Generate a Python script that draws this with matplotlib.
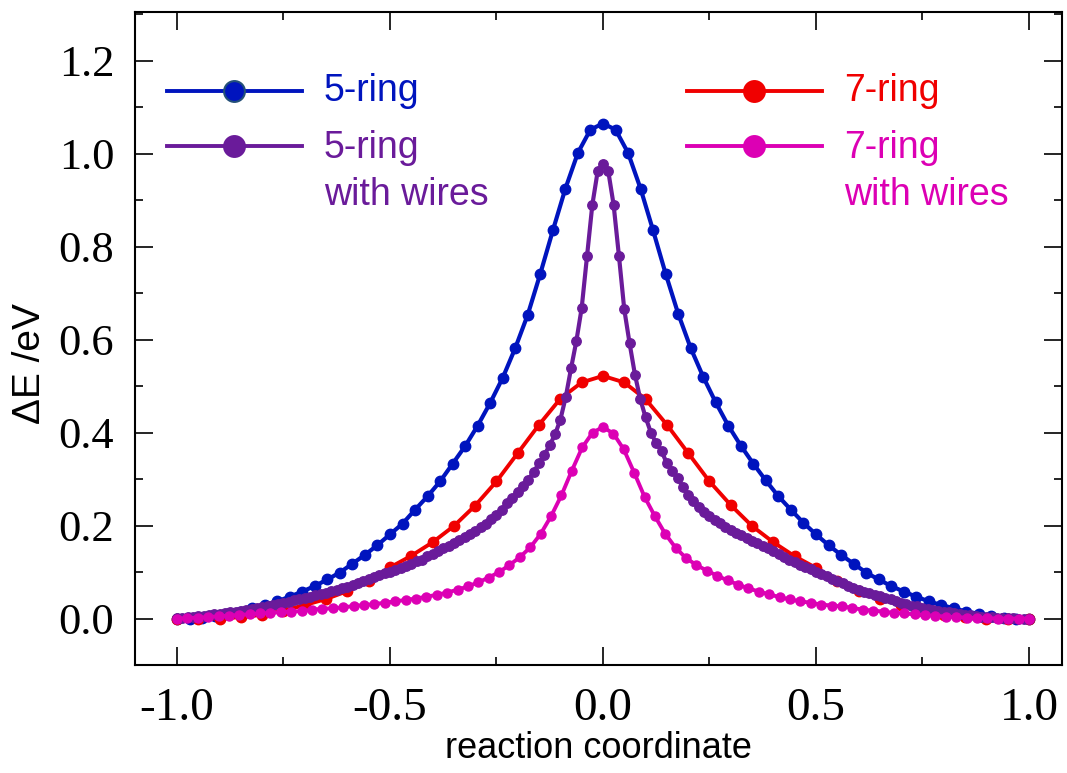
import numpy as np
import matplotlib
matplotlib.use("Agg")
import matplotlib.pyplot as plt
from matplotlib.ticker import MultipleLocator, FormatStrFormatter

plt.rcParams['axes.unicode_minus'] = False

# --- data ---
# 5-ring, 69 images
ring5 = [0.000, 0.000, 0.002, 0.005, 0.010, 0.015, 0.022, 0.029, 0.037, 0.047,
         0.058, 0.070, 0.084, 0.099, 0.118, 0.137, 0.158, 0.181, 0.204, 0.234,
         0.263, 0.295, 0.333, 0.371, 0.415, 0.464, 0.518, 0.582, 0.654, 0.742,
         0.835, 0.925, 1.002, 1.052,
         1.065,
         1.052, 1.002, 0.925, 0.835, 0.742, 0.656, 0.582, 0.520, 0.465, 0.415,
         0.372, 0.333, 0.297, 0.263, 0.234, 0.206, 0.181, 0.158, 0.137, 0.118,
         0.099, 0.084, 0.070, 0.058, 0.047, 0.037, 0.029, 0.022, 0.015, 0.010,
         0.005, 0.002, 0.000, 0.000]

# 7-ring, 41 images
ring7 = [0.000, 0.000, 0.000, 0.003, 0.008, 0.017, 0.029, 0.042, 0.059, 0.081,
         0.110, 0.135, 0.164, 0.199, 0.243, 0.295, 0.356, 0.417, 0.473, 0.508,
         0.522,
         0.508, 0.472, 0.417, 0.356, 0.295, 0.244, 0.199, 0.164, 0.134, 0.109,
         0.081, 0.059, 0.042, 0.029, 0.017, 0.008, 0.003, 0.000, 0.000, 0.000]

# 5-ring with wires, 161 images
ring5_wires = [
    0.001, 0.002, 0.003, 0.004, 0.005, 0.006, 0.007, 0.009, 0.010, 0.012,
    0.014, 0.015, 0.017, 0.019, 0.021, 0.023, 0.025, 0.027, 0.030, 0.032,
    0.034, 0.036, 0.039, 0.042, 0.045, 0.047, 0.050, 0.053, 0.056, 0.059,
    0.062, 0.065, 0.068, 0.072, 0.076, 0.080, 0.084, 0.089, 0.093, 0.097,
    0.101, 0.105, 0.109, 0.113, 0.118, 0.123, 0.127, 0.134, 0.139, 0.145,
    0.151, 0.157, 0.163, 0.169, 0.175, 0.181, 0.188, 0.196, 0.204, 0.214,
    0.222, 0.234, 0.248, 0.260, 0.272, 0.285, 0.299, 0.316, 0.334, 0.352,
    0.373, 0.396, 0.428, 0.476, 0.538, 0.597, 0.668, 0.780, 0.890, 0.962,
    0.978,
    0.962, 0.890, 0.780, 0.665, 0.592, 0.525, 0.472, 0.433, 0.400, 0.377,
    0.360, 0.334, 0.318, 0.302, 0.283, 0.266, 0.252, 0.240, 0.230, 0.221,
    0.213, 0.206, 0.198, 0.191, 0.185, 0.179, 0.173, 0.167, 0.162, 0.156,
    0.151, 0.145, 0.139, 0.133, 0.127, 0.121, 0.116, 0.111, 0.106, 0.100,
    0.095, 0.091, 0.085, 0.080, 0.076, 0.071, 0.066, 0.062, 0.058, 0.055,
    0.051, 0.048, 0.044, 0.041, 0.037, 0.034, 0.031, 0.028, 0.026, 0.023,
    0.021, 0.019, 0.017, 0.015, 0.013, 0.012, 0.010, 0.008, 0.007, 0.005,
    0.004, 0.004, 0.003, 0.002, 0.002, 0.001, 0.001, 0.000, 0.000, 0.000]

# 7-ring with wires, 83 images
ring7_wires = [
    0.000, 0.001, 0.002, 0.003, 0.005, 0.006, 0.008, 0.009, 0.011, 0.012,
    0.014, 0.015, 0.016, 0.019, 0.021, 0.022, 0.024, 0.027, 0.029, 0.031,
    0.034, 0.037, 0.040, 0.043, 0.047, 0.051, 0.056, 0.062, 0.069, 0.078,
    0.088, 0.100, 0.115, 0.132, 0.153, 0.182, 0.220, 0.265, 0.318, 0.368,
    0.400,
    0.412,
    0.398, 0.364, 0.314, 0.262, 0.220, 0.182, 0.152, 0.130, 0.115, 0.103,
    0.092, 0.082, 0.073, 0.065, 0.058, 0.052, 0.046, 0.041, 0.037, 0.034,
    0.030, 0.028, 0.026, 0.023, 0.019, 0.017, 0.015, 0.012, 0.011, 0.009,
    0.007, 0.006, 0.004, 0.003, 0.002, 0.001, 0.001, 0.000, 0.000, 0.000,
    0.000]

assert len(ring5) == 69 and len(ring7) == 41
assert len(ring5_wires) == 161 and len(ring7_wires) == 83

labels = ["5-ring", "5-ring\nwith wires", "7-ring", "7-ring\nwith wires"]
c_blue, c_purple, c_red, c_mag = '#0014BE', '#6A1B9A', '#F00000', '#DC00B4'

fig = plt.figure(figsize=(10.67, 7.73), dpi=100)
ax = fig.add_axes([0.1265, 0.1397, 0.9953 - 0.1265, 0.9845 - 0.1397])

def rc(vals):
    return np.linspace(-1.0, 1.0, len(vals))

ax.plot(rc(ring5), ring5, '-o', color=c_blue, lw=3.0, ms=7.5, zorder=3)
ax.plot(rc(ring7), ring7, '-o', color=c_red, lw=2.8, ms=7.5, zorder=4)
ax.plot(rc(ring5_wires), ring5_wires, '-o', color=c_purple, lw=3.0, ms=6.8, zorder=5)
ax.plot(rc(ring7_wires), ring7_wires, '-o', color=c_mag, lw=2.8, ms=6.5, zorder=6)

ax.set_xlim(-1.0986, 1.0775)
ax.set_ylim(-0.1, 1.305)
ax.xaxis.set_major_locator(MultipleLocator(0.5))
ax.xaxis.set_minor_locator(MultipleLocator(0.25))
ax.yaxis.set_major_locator(MultipleLocator(0.2))
ax.yaxis.set_minor_locator(MultipleLocator(0.1))
ax.xaxis.set_major_formatter(FormatStrFormatter('%.1f'))
ax.yaxis.set_major_formatter(FormatStrFormatter('%.1f'))
ax.tick_params(which='both', direction='in', top=True, right=True, width=1.2)
ax.tick_params(which='major', length=13)
ax.tick_params(which='minor', length=6)
ax.tick_params(axis='x', which='major', pad=16, labelsize=34)
ax.tick_params(axis='y', which='major', pad=15, labelsize=32)
for lab in ax.get_xticklabels() + ax.get_yticklabels():
    lab.set_family('Liberation Serif')
for sp in ax.spines.values():
    sp.set_linewidth(1.5)

ax.set_xlabel('reaction coordinate', fontsize=26, family='Liberation Sans', va='center')
ax.xaxis.set_label_coords(0.5, -0.128)
ax.set_ylabel('ΔE /eV', fontsize=28, family='Liberation Sans', va='center')
ax.yaxis.set_label_coords(-0.113, 0.461)

# legend, drawn by hand in axes coordinates
entries = [(0.0345, 0.879, c_blue, labels[0], '#245078'),
           (0.0345, 0.795, c_purple, labels[1], c_purple),
           (0.5955, 0.879, c_red, labels[2], c_red),
           (0.5955, 0.795, c_mag, labels[3], c_mag)]
for x0, y0, col, lab, ec in entries:
    ax.plot([x0, x0 + 0.1456], [y0, y0], color=col, lw=2.8,
            transform=ax.transAxes, clip_on=False, zorder=7)
    ax.plot([x0 + 0.0728], [y0], 'o', color=col, ms=15, mec=ec, mew=1.5,
            transform=ax.transAxes, clip_on=False, zorder=8)
    ty = y0 if '\n' not in lab else y0 - 0.039
    ax.text(x0 + 0.1694, ty, lab, color=col, fontsize=27, family='Liberation Sans',
            ha='left', va='center', linespacing=1.4, transform=ax.transAxes, zorder=8)

fig.savefig('out.png', dpi=100)
